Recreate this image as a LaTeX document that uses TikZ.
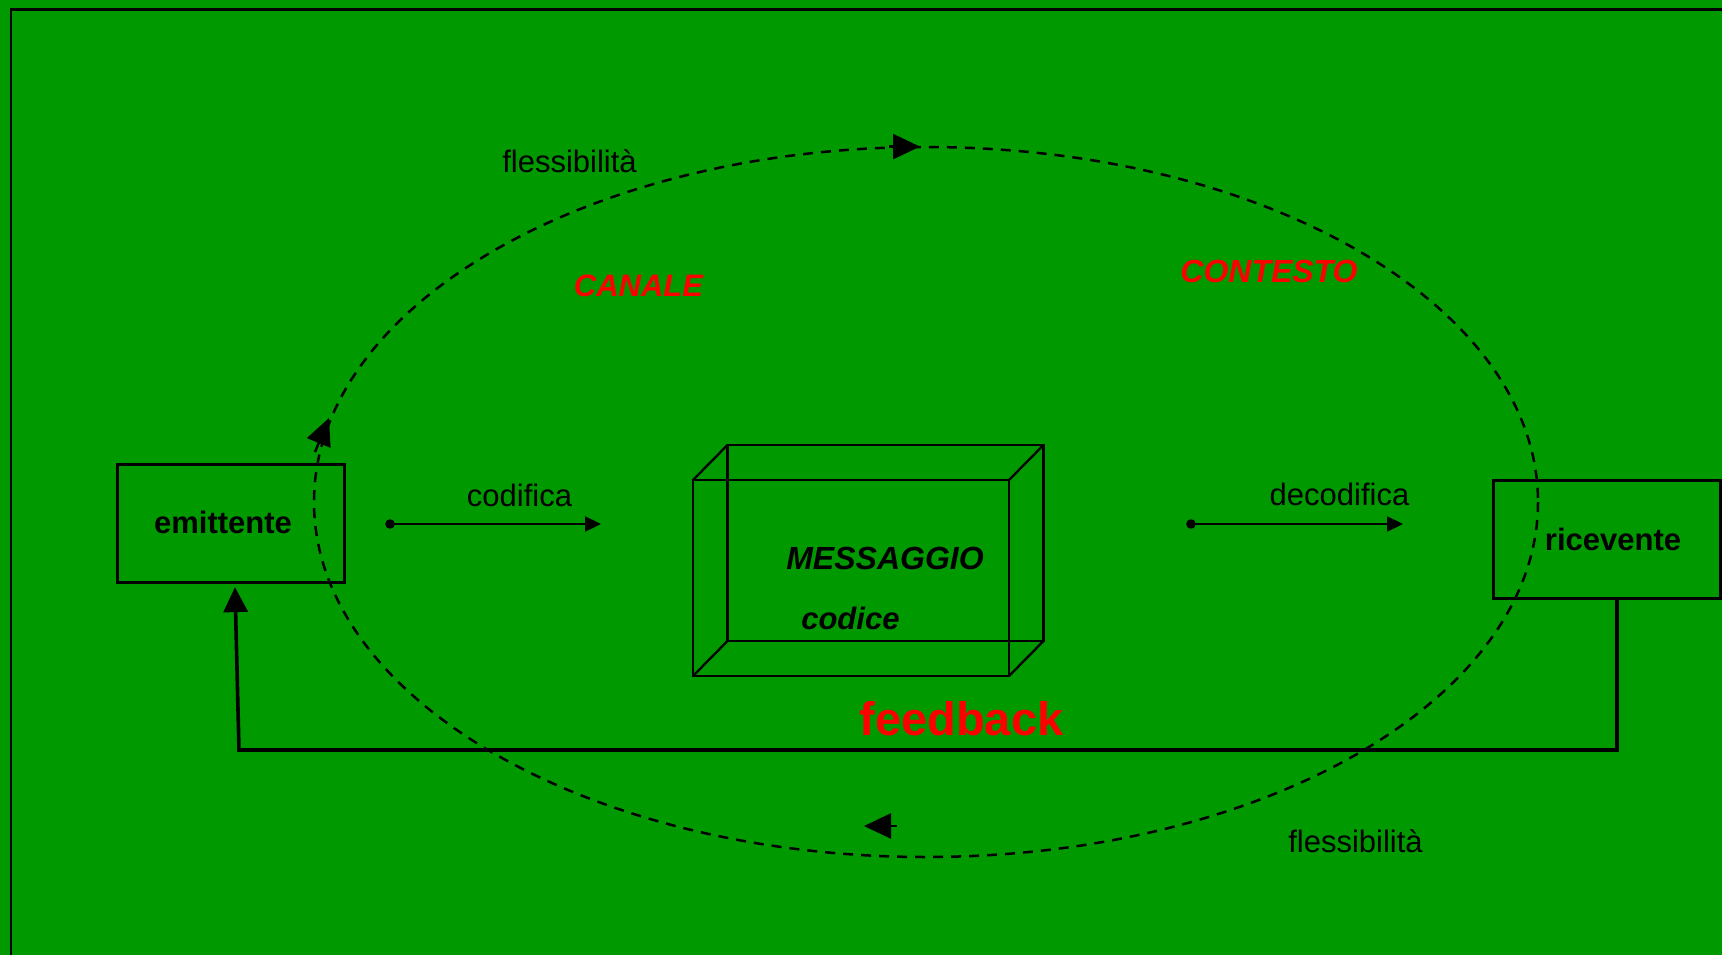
\documentclass[tikz,border=0pt]{standalone}
\usepackage{fontspec}
\setmainfont{Liberation Sans}
\usetikzlibrary{arrows.meta,calc}
\definecolor{bggreen}{RGB}{0,153,0}
\definecolor{redtxt}{RGB}{255,0,0}
\begin{document}
\begin{tikzpicture}[x=1pt,y=-1pt,
  box/.style={draw,line width=2.6pt,minimum width=227pt,minimum height=118pt,inner sep=0pt},
  txt/.style={font=\fontsize{31}{37}\selectfont,anchor=base,inner sep=0pt},
  btxt/.style={font=\fontsize{31}{37}\selectfont\bfseries,anchor=base,inner sep=0pt},
  bitxt/.style={font=\fontsize{31}{37}\selectfont\bfseries\itshape,anchor=base,inner sep=0pt},
  redtitle/.style={bitxt,text=redtxt},
  cubeline/.style={line width=2.3pt},
  dashring/.style={line width=2.5pt,dash pattern=on 10pt off 8pt},
  ringtip/.style={line width=2.5pt,-{Triangle[length=27pt,width=25pt]}},
  codarrow/.style={line width=2.3pt,-{Triangle[length=16pt,width=15pt]}},
  fbline/.style={line width=3.6pt,-{Triangle[length=25pt,width=24pt]}}
]
\useasboundingbox (0,0) rectangle (1722,955);
\fill[bggreen] (0,0) rectangle (1722,955);
\clip (0,0) rectangle (1722,955);
\draw[line width=2.5pt] (11,9.7) rectangle (1780,1010);

% boxes
\node[box] (emittente) at (231,523.3) {};
\node[btxt] (emtxt) at (223,533) {emittente};
\node[box] (ricevente) at (1607,539.3) {};
\node[btxt] (rictxt) at (1613,550) {ricevente};

% cube
\draw[cubeline] (693,480) rectangle (1009,676);
\draw[cubeline] (727.5,445) rectangle (1043.5,641);
\draw[cubeline] (693,480) -- (727.5,445);
\draw[cubeline] (1009,480) -- (1043.5,445);
\draw[cubeline] (693,676) -- (727.5,641);
\draw[cubeline] (1009,676) -- (1043.5,641);
\node[bitxt,font=\fontsize{32}{38}\selectfont\bfseries\itshape] (msg) at (885,569.3) {MESSAGGIO};
\node[bitxt] (codice) at (850.4,629.3) {codice};

% codifica / decodifica
\coordinate (c1) at (390,524);
\coordinate (c2) at (601,524);
\fill (c1) circle (4.8);
\draw[codarrow] (c1) -- (c2);
\node[txt] (codifica) at (519.5,506.7) {codifica};
\coordinate (d1) at (1191,524);
\coordinate (d2) at (1403,524);
\fill (d1) circle (4.8);
\draw[codarrow] (d1) -- (d2);
\node[txt] (decodifica) at (1339.5,505.7) {decodifica};

% dashed ring
\draw[dashring] (926,502) ellipse [x radius=612, y radius=355];
\coordinate (tA) at (889,146.6);
\coordinate (tB) at (920,146.6);
\draw[ringtip] (tA) -- (tB);
\coordinate (lA) at (315,452);
\coordinate (lB) at (329,418);
\draw[ringtip] (lA) -- (lB);
\coordinate (bA) at (897,826);
\coordinate (bB) at (864,826);
\draw[ringtip] (bA) -- (bB);

\node[txt] (fl1) at (569.5,172.4) {flessibilità};
\node[txt] (fl2) at (1355.5,852) {flessibilità};
\node[redtitle] (canale) at (638.5,296.5) {CANALE};
\node[redtitle,font=\fontsize{32}{38}\selectfont\bfseries\itshape] (contesto) at (1269,282) {CONTESTO};

% feedback
\coordinate (fb1) at (1617,750);
\coordinate (fb2) at (239,750);
\draw[fbline] ($(ricevente.south)+(10,0)$) -- (fb1) -- (fb2) -- ($(emittente.south)+(4,3.5)$);
\node[btxt,text=redtxt,font=\fontsize{47}{56}\selectfont\bfseries] (feedback) at (961.5,735.8) {feedback};
\end{tikzpicture}
\end{document}
